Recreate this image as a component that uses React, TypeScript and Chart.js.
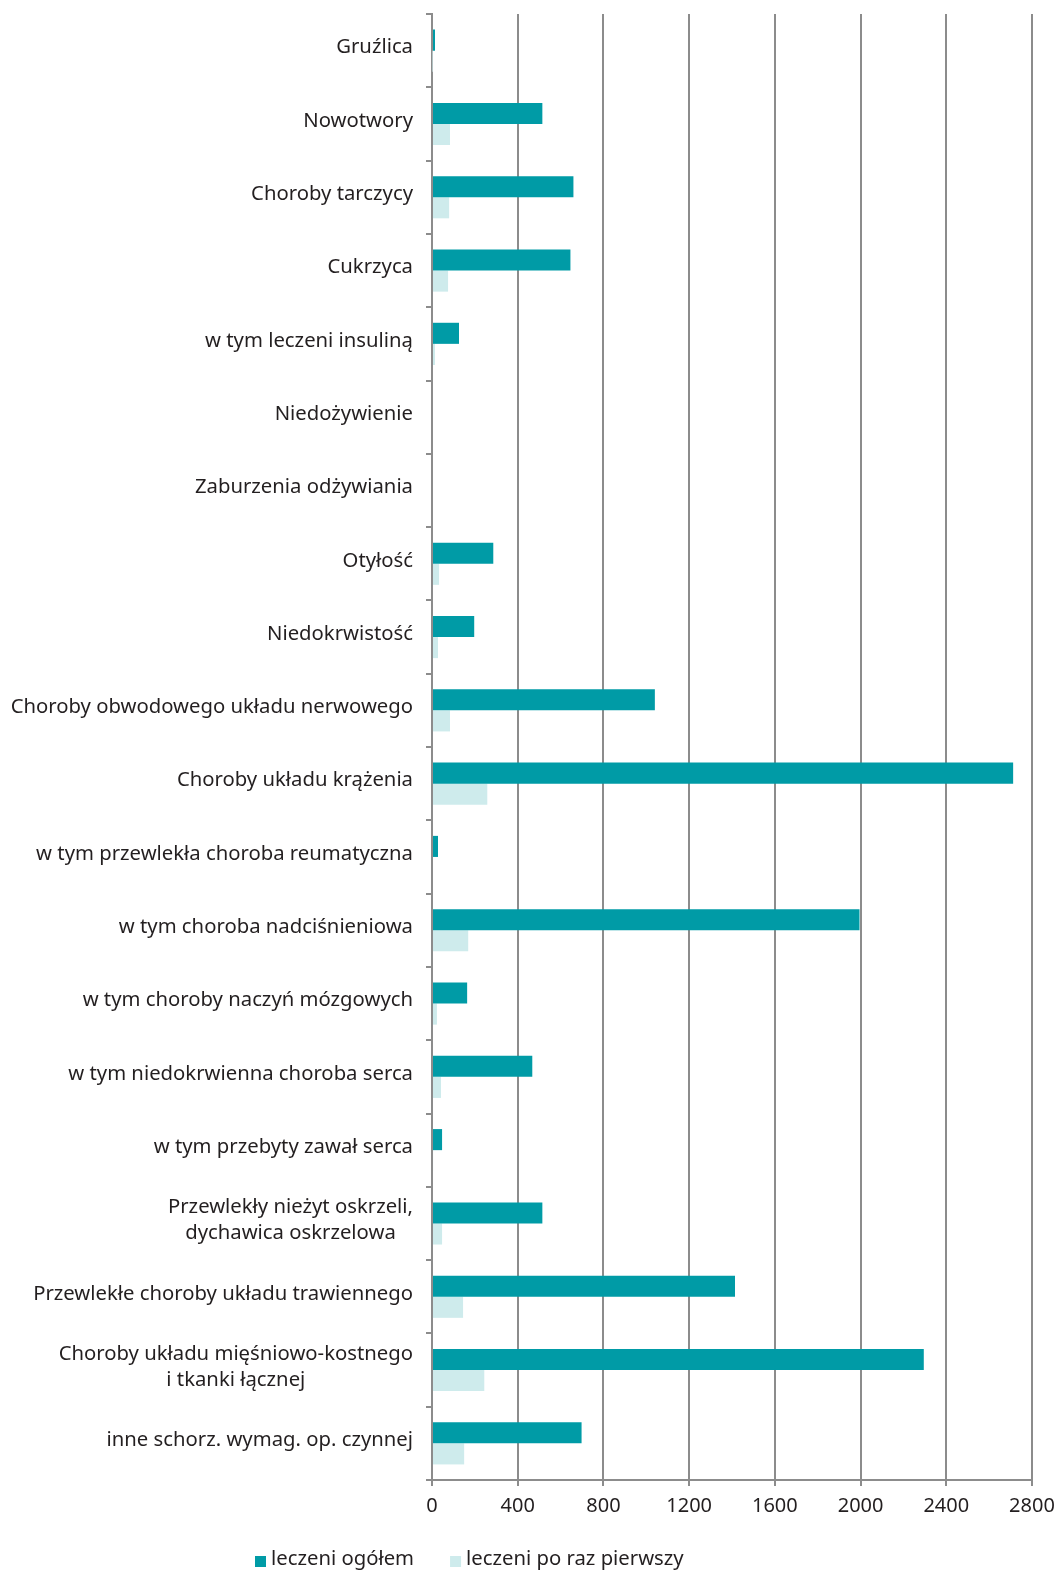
import React, { useEffect, useRef } from "react";
import { Chart, registerables } from "chart.js";

Chart.register(...registerables);

const categories: (string | string[])[] = [
  "Gruźlica",
  "Nowotwory",
  "Choroby tarczycy",
  "Cukrzyca",
  "w tym leczeni insuliną",
  "Niedożywienie",
  "Zaburzenia odżywiania",
  "Otyłość",
  "Niedokrwistość",
  "Choroby obwodowego układu nerwowego",
  "Choroby układu krążenia",
  "w tym przewlekła choroba reumatyczna",
  "w tym choroba nadciśnieniowa",
  "w tym choroby naczyń mózgowych",
  "w tym niedokrwienna choroba serca",
  "w tym przebyty zawał serca",
  ["Przewlekły nieżyt oskrzeli,", "dychawica oskrzelowa"],
  "Przewlekłe choroby układu trawiennego",
  ["Choroby układu mięśniowo-kostnego", "i tkanki łącznej"],
  "inne schorz. wymag. op. czynnej",
];

const leczeniOgolem = [14, 515, 660, 646, 126, 0, 0, 286, 197, 1040, 2712, 28, 1995, 164, 468, 47, 515, 1414, 2295, 698];
const leczeniPoRazPierwszy = [2, 84, 80, 75, 14, 0, 0, 33, 28, 84, 258, 0, 169, 23, 42, 5, 47, 145, 244, 150];

const xTicks = [0, 400, 800, 1200, 1600, 2000, 2400, 2800];

const seriesNames = ["leczeni ogółem", "leczeni po raz pierwszy"];

const FONT = "'Noto Sans', sans-serif";
const TEXT = "#231f20";

const labelsPlugin = {
  id: "customLabels",
  afterDraw(chart: any) {
    const ctx = chart.ctx as CanvasRenderingContext2D;
    const yScale = chart.scales.y;
    ctx.save();
    ctx.fillStyle = TEXT;
    ctx.font = `20.3px ${FONT}`;
    ctx.textBaseline = "middle";
    const right = 413;
    const lineH = 26;
    (chart.data.labels as (string | string[])[]).forEach((lab, i) => {
      const cy = yScale.getPixelForValue(i);
      const lines = Array.isArray(lab) ? lab : [lab];
      const widths = lines.map((l) => ctx.measureText(l).width);
      const maxW = Math.max(...widths);
      const blockCenter = right - maxW / 2;
      lines.forEach((l, j) => {
        const y = cy - 3 + (j - (lines.length - 1) / 2) * lineH;
        ctx.textAlign = "center";
        ctx.fillText(l, blockCenter, y);
      });
    });

    // legend
    const ly = 1561;
    let x = 255;
    chart.data.datasets.forEach((ds: any) => {
      ctx.fillStyle = ds.backgroundColor;
      ctx.fillRect(x, ly - 5, 11, 11);
      x += 16;
      ctx.fillStyle = TEXT;
      ctx.textAlign = "left";
      ctx.fillText(ds.label, x, ly - 2);
      x += ctx.measureText(ds.label).width + 36;
    });
    ctx.restore();
  },
};

export default function App() {
  const ref = useRef<HTMLCanvasElement | null>(null);
  useEffect(() => {
    if (!ref.current) return;
    const chart = new Chart(ref.current, {
      type: "bar",
      data: {
        labels: categories,
        datasets: [
          {
            label: seriesNames[0],
            data: leczeniOgolem,
            backgroundColor: "#009ba6",
            borderWidth: 0,
            barPercentage: 1,
            categoryPercentage: 0.575,
          },
          {
            label: seriesNames[1],
            data: leczeniPoRazPierwszy,
            backgroundColor: "#ceebec",
            borderWidth: 0,
            barPercentage: 1,
            categoryPercentage: 0.575,
          },
        ],
      },
      plugins: [labelsPlugin],
      options: {
        indexAxis: "y",
        animation: false,
        responsive: true,
        maintainAspectRatio: false,
        layout: { padding: { top: 14, right: 26, left: 0, bottom: 32 } },
        plugins: {
          legend: { display: false },
          tooltip: { enabled: false },
        },
        scales: {
          x: {
            min: 0,
            max: 2800,
            afterBuildTicks: (s: any) => {
              s.ticks = xTicks.map((v) => ({ value: v }));
            },
            afterFit: (s: any) => {
              s.height = 60;
              s.paddingRight = 0;
              s.paddingLeft = 0;
            },
            grid: {
              color: "#8c8c8c",
              lineWidth: 2,
              tickLength: 6,
              drawTicks: true,
            },
            border: { color: "#8c8c8c", width: 2 },
            ticks: {
              color: TEXT,
              font: { family: FONT, size: 20 },
              padding: 8,
              callback: (v: any) => String(v),
            },
          },
          y: {
            afterFit: (s: any) => {
              s.width = 432;
            },
            grid: {
              color: "#8c8c8c",
              lineWidth: 2,
              drawOnChartArea: false,
              tickLength: 6,
              offset: true,
            },
            border: { color: "#8c8c8c", width: 2 },
            ticks: {
              display: false,
              autoSkip: false,
            },
          },
        },
      },
    });
    return () => chart.destroy();
  }, []);
  return (
    <div style={{ position: "absolute", left: 0, top: 0, width: 1058, height: 1572, background: "#fff" }}>
      <canvas ref={ref} />
    </div>
  );
}
